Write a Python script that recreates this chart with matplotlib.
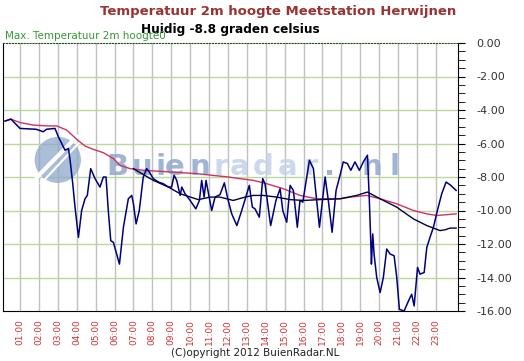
import matplotlib
matplotlib.use('Agg')
import matplotlib.pyplot as plt
from matplotlib.patches import Ellipse
from matplotlib.ticker import MultipleLocator

# temperatuur (hour of day, degrees C)
temp_h = [0.21, 0.52, 0.74, 1.0, 1.85, 2.06, 2.23, 2.4, 2.85, 3.03, 3.38, 3.56, 3.65, 3.79, 3.91,
          4.09, 4.26, 4.44, 4.56, 4.74, 4.97, 5.23, 5.41, 5.55, 5.67, 5.80, 5.94, 6.26, 6.47, 6.73,
          6.91, 7.0, 7.14, 7.31, 7.52, 7.70, 7.84, 8.05, 8.32, 8.58, 8.85, 9.02, 9.15, 9.29, 9.47,
          9.56, 9.73, 10.0, 10.3, 10.49, 10.61, 10.74, 10.84, 11.14, 11.32, 11.58, 11.81, 12.0,
          12.2, 12.47, 12.73, 13.13, 13.29, 13.43, 13.66, 13.84, 13.96, 14.26, 14.54, 14.76, 14.9,
          15.11, 15.29, 15.46, 15.67, 15.81, 15.96, 16.31, 16.52, 16.84, 17.14, 17.31, 17.51, 17.72,
          17.93, 18.1, 18.32, 18.5, 18.72, 18.95, 19.16, 19.38, 19.48, 19.56, 19.59, 19.66, 19.73,
          19.87, 20.05, 20.22, 20.4, 20.58, 20.79, 20.93, 21.07, 21.32, 21.55, 21.72, 21.85, 22.03,
          22.16, 22.38, 22.52, 22.69, 22.87, 23.08, 23.31, 23.54, 23.79, 24.07]
temp_v = [-4.66, -4.54, -4.8, -5.1, -5.15, -5.23, -5.3, -5.15, -5.1, -5.6, -6.4, -6.3, -7.0, -8.4, -9.8,
          -11.6, -10.0, -9.3, -9.1, -7.5, -8.1, -8.6, -8.0, -8.0, -10.0, -11.8, -11.9, -13.2, -11.0, -9.3,
          -9.1, -9.6, -10.8, -10.0, -8.0, -7.5, -7.7, -8.1, -8.3, -8.4, -8.6, -8.6, -7.9, -8.2, -9.1,
          -8.6, -9.0, -9.4, -9.9, -9.4, -8.2, -9.2, -8.2, -10.0, -9.2, -9.05, -8.35, -9.35,
          -10.2, -10.9, -10.0, -8.5, -9.8, -9.9, -10.4, -8.1, -8.4, -10.9, -9.4, -8.7, -10.0,
          -10.7, -8.5, -8.8, -11.0, -9.4, -9.5, -7.0, -7.5, -11.0, -8.0, -9.4, -11.3, -8.8,
          -7.9, -7.1, -7.2, -7.6, -7.1, -7.6, -7.1, -6.7, -9.4, -12.0, -13.2, -11.4, -12.6,
          -14.0, -14.9, -14.0, -12.3, -12.6, -12.7, -14.0, -15.9, -16.0, -15.4, -15.0, -15.7, -13.4,
          -13.8, -13.7, -12.2, -11.6, -11.0, -10.0, -9.0, -8.3, -8.5, -8.8]

# gemiddelde (dark smooth line)
gem_h = [7.0, 7.14, 8.05, 8.85, 9.47, 10.43, 11.05, 11.58, 12.28, 12.9, 13.34, 13.87, 14.58, 15.29,
         16.0, 16.87, 17.93, 18.81, 19.38, 20.05, 20.93, 21.81, 22.52, 23.22, 23.49, 23.75, 24.07]
gem_v = [-7.5, -7.6, -8.2, -8.6, -9.0, -9.35, -9.2, -9.2, -9.4, -9.2, -9.1, -9.1, -9.2, -9.35,
         -9.4, -9.35, -9.3, -9.1, -8.9, -9.3, -9.8, -10.5, -10.9, -11.2, -11.15, -11.05, -11.05]

# trend (pink line)
trend_h = [0.21, 0.52, 1.0, 1.7, 2.41, 2.94, 3.47, 4.0, 4.44, 4.88, 5.41, 5.94, 6.29, 6.82, 7.52,
           8.94, 10.35, 12.02, 12.64, 13.34, 14.05, 14.93, 15.81, 16.7, 17.93, 18.46, 19.34, 20.05,
           20.93, 21.81, 22.52, 23.05, 24.07]
trend_v = [-4.66, -4.55, -4.75, -4.9, -4.95, -4.95, -5.2, -5.75, -6.15, -6.35, -6.55, -6.9, -7.3, -7.5, -7.6,
           -7.7, -7.8, -8.0, -8.1, -8.2, -8.4, -8.7, -9.1, -9.3, -9.3, -9.2, -9.1, -9.3,
           -9.6, -10.0, -10.2, -10.3, -10.2]

hour_ticks = list(range(1, 24))
hour_labels = ['%02d:00' % h for h in hour_ticks]

fig = plt.figure(figsize=(5.24, 3.61), dpi=100)
ax = fig.add_axes([3/524, 50/361, 455/524, 268/361])

ax.set_xlim(0.1, 24.17)
ax.set_ylim(-16, 0)

# grid
for h in hour_ticks:
    ax.axvline(h, color='#c0c0c0', lw=1, zorder=0)
for v in range(-14, 0, 2):
    ax.axhline(v, color='#bcd89a', lw=1, zorder=0)

# watermark logo + letter-spaced text (pixel positions in the 524x361 picture)
ax.add_patch(Ellipse((3.0, -6.98), 2.45, 2.75, color='#8ea8cc', alpha=0.75, zorder=1, lw=0))
ax.plot([1.9, 4.0], [-8.0, -5.6], color='white', lw=3, zorder=1)
ax.plot([2.1, 4.5], [-8.4, -5.5], color='white', lw=1.5, zorder=1)
wm_letters = list('Buienradar.nl')
wm_x = [106, 132, 155, 165, 189, 213, 230, 253, 278, 303, 324, 361, 389]
wm_col = ['#8ea8cc'] * 5 + ['#c3d2e8'] * 5 + ['#8ea8cc'] * 3
for ch, px, c in zip(wm_letters, wm_x, wm_col):
    ax.text((px - 3) / 455, (311 - 175) / 268, ch, transform=ax.transAxes, fontsize=21,
            fontweight='bold', color=c, alpha=0.85, zorder=1, ha='left', va='baseline')

ax.plot(trend_h, trend_v, color='#cc3366', lw=1, zorder=3)
ax.plot(gem_h, gem_v, color='#000040', lw=1, zorder=3)
ax.plot(temp_h, temp_v, color='#00007f', lw=1.1, zorder=4)

ax.set_xticks(hour_ticks)
ax.set_xticklabels(hour_labels, rotation=90, fontsize=6.5, color='#cc3333')
ax.tick_params(axis='x', length=0, pad=6)

ax.yaxis.tick_right()
ax.set_yticks(range(-16, 1, 2))
ax.set_yticklabels(['%.2f' % v for v in range(-16, 1, 2)], fontsize=8, color='#333333')
ax.yaxis.set_minor_locator(MultipleLocator(0.5))
ax.tick_params(axis='y', which='major', length=5, pad=8, direction='out')
ax.tick_params(axis='y', which='minor', length=5, direction='out')

ax.spines['top'].set_linestyle(':')
ax.spines['top'].set_color('#1a4d1a')
for s in ['left', 'bottom', 'right']:
    ax.spines[s].set_color('black')

fig.text(278/524, 1 - 11/361, 'Temperatuur 2m hoogte Meetstation Herwijnen', ha='center', va='center',
         fontsize=9.5, fontweight='bold', color='#993333')
fig.text(230/524, 1 - 30/361, 'Huidig -8.8 graden celsius', ha='center', va='center',
         fontsize=8.7, fontweight='bold', color='black')
fig.text(5/524, 1 - 36/361, 'Max. Temperatuur 2m hoogte0', ha='left', va='center',
         fontsize=7.5, color='#339933')
fig.text(255/524, 1 - 353/361, '(C)opyright 2012 BuienRadar.NL', ha='center', va='center',
         fontsize=7.5, color='#222222')

fig.savefig('out.png', dpi=100)
